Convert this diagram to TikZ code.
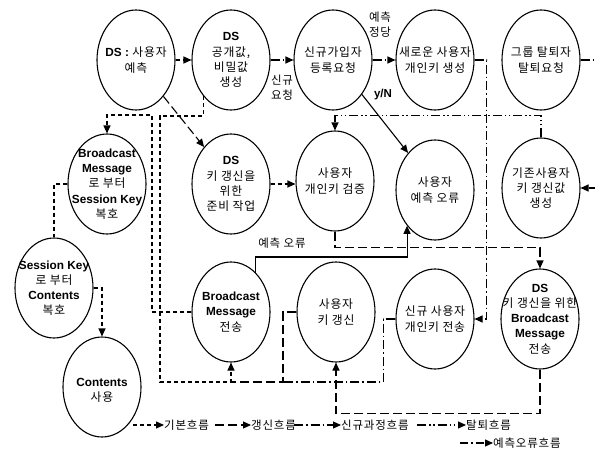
\documentclass[tikz,border=0pt]{standalone}
\usepackage{fontspec}
\setmainfont{Noto Sans CJK KR}[LetterSpace=7]
\newfontfamily\latfont{Liberation Sans}
\newcommand\en[1]{{\latfont\bfseries #1}}
\usetikzlibrary{shapes.geometric,arrows.meta}
\begin{document}
\begin{tikzpicture}[x=1pt,y=-1pt,
 el/.style={ellipse,draw,line width=1.1pt,minimum width=78pt,minimum height=100pt,inner sep=0pt},
 txt/.style={align=center,inner sep=0pt,font=\fontsize{11.8}{15.2}\selectfont},
 lbl/.style={align=center,inner sep=0pt,font=\fontsize{11.5}{15}\selectfont},
 con/.style={line width=1.1pt},
 tip/.style={-{Triangle[length=8pt,width=7pt]}},
 basic/.style={con,dash pattern=on 4pt off 3pt},
 renew/.style={con,dash pattern=on 9pt off 4pt},
 newproc/.style={con,dash pattern=on 9pt off 3pt on 1.5pt off 3pt},
 leave/.style={con,dash pattern=on 9pt off 3pt on 1.5pt off 2.5pt on 1.5pt off 3pt},
 err/.style={con,dash pattern=on 8pt off 3pt on 1.5pt off 3pt}
]
\useasboundingbox (0,0) rectangle (595,455);
% ellipses
\node[el] (A) at (136,60) {};  \node[txt] (tA) at (A) {\en{DS :} 사용자\\예측};
\node[el] (B) at (231,60) {};  \node[txt] (tB) at (A -| B) {\en{DS}\\공개값,\\비밀값\\생성};
\node[el] (C) at (333,60) {};  \node[txt] (tC) at (C) {신규가입자\\등록요청};
\node[el] (D) at (435,60) {};  \node[txt] (tD) at (D) {새로운 사용자\\개인키 생성};
\node[el] (E) at (541,60) {};  \node[txt] (tE) at (E) {그룹 탈퇴자\\탈퇴요청};
\node[el] (F) at (107,184) {}; \node[txt] (tF) at (F) {\en{Broadcast}\\\en{Message}\\로 부터\\\en{Session Key}\\복호};
\node[el] (G) at (231,184) {}; \node[txt] (tG) at (G) {\en{DS}\\키 갱신을\\위한\\준비 작업};
\node[el] (H) at (335,181) {}; \node[txt] (tH) at (H) {사용자\\개인키 검증};
\node[el] (I) at (435,190) {}; \node[txt] (tI) at (I) {사용자\\예측 오류};
\node[el] (J) at (541,188) {}; \node[txt] (tJ) at (J) {기존사용자\\키 갱신값\\생성};
\node[el] (K) at (54,288) {};  \node[txt] (tK) at (K) {\en{Session Key}\\로 부터\\\en{Contents}\\복호};
\node[el] (L) at (102,387) {}; \node[txt] (tL) at (102,390) {\en{Contents}\\사용};
\node[el] (M) at (231,312) {}; \node[txt] (tM) at (M) {\en{Broadcast}\\\en{Message}\\전송};
\node[el] (N) at (336,312) {}; \node[txt] (tN) at (N) {사용자\\키 갱신};
\node[el] (O) at (435,319) {}; \node[txt] (tO) at (O) {신규 사용자\\개인키 전송};
\node[el] (P) at (540,319) {}; \node[txt] (tP) at (P) {\en{DS}\\키 갱신을 위한\\\en{Broadcast}\\\en{Message}\\전송};
% helper coordinates
\coordinate (c1) at (160,116);
\coordinate (c2) at (160,382);
\coordinate (c3) at (152,115);
\coordinate (c4) at (0,257);
\coordinate (j1) at (283,382);
\coordinate (eR) at (597,60);
% connectors
\draw[basic,tip] (A.east) -- (B.west);
\draw[newproc,tip] (B.east) -- (C.west);
\node[lbl] (lb1) at (282,88) {신규\\요청};
\draw[newproc,tip] (C.east) -- (D.west);
\node[lbl] (lb2) at (380,25) {예측\\정당};
\node[lbl] (lb3) at (383,95) {\en{y/N}};
\draw[renew,tip] (A.-53) -- (G.126);
\draw[basic,tip] (B.-127) |- (c1) -- (c2) -| (M.south);
\draw[basic,tip] (M.west) -| (c3) -| (F.north);
\draw[basic] (F.west) -| (K.north);
\draw[basic,tip] (K.east) -| (L.north);
\draw[basic,tip] (G.east) -- (G.east -| H.west);
\draw[con,tip] (C.-50) -- (I.126);
\draw[renew,tip] (H.south) -- ++(0,16) -| (P.north);
\draw[con,tip] (M.58) |- (I.-128 |- c4) -- (I.-128);
\node[lbl] (lb4) at (282,243) {예측 오류};
\draw[newproc,tip] (D.east) -- ++(12,0) |- (O.east);
\draw[leave,tip] (E.east) -- (eR) |- (J.east);
\draw[leave,tip] (J.north) -- ++(0,-22) -| (H.north);
\draw[renew] (N.west) -| (j1) -- (j1 -| M.south);
\draw[newproc] (O.west) -- ++(-12,0) |- (j1);
\draw[renew,tip] (P.south) -- ++(0,44) -| (N.south);
% legend
\coordinate (g1s) at (133,425);
\coordinate (g2s) at (215,425);
\coordinate (g3s) at (294,425);
\coordinate (g4s) at (417,425);
\coordinate (g5s) at (460,443);
\node[lbl,anchor=west] (g1) at (164,425) {기본흐름};
\node[lbl,anchor=west] (g2) at (251,425) {갱신흐름};
\node[lbl,anchor=west] (g3) at (341,425) {신규과정흐름};
\node[lbl,anchor=west] (g4) at (466,425) {탈퇴흐름};
\node[lbl,anchor=west] (g5) at (493,443) {예측오류흐름};
\draw[basic,tip] (g1s) -- (g1.west);
\draw[renew,tip] (g2s) -- (g2.west);
\draw[newproc,tip] (g3s) -- (g3.west);
\draw[leave,tip] (g4s) -- (g4.west);
\draw[err,tip] (g5s) -- (g5.west);
\end{tikzpicture}
\end{document}
